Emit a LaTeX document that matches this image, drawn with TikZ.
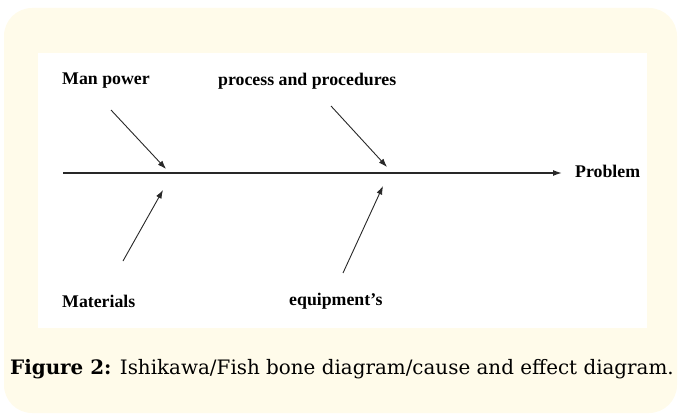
\documentclass[tikz,border=0pt]{standalone}
\usepackage{fontspec}
\setmainfont{Liberation Serif}
\newfontfamily\capfont{DejaVu Serif}
\usetikzlibrary{arrows.meta}
\definecolor{panelyellow}{RGB}{255,251,234}
\definecolor{boneline}{RGB}{40,40,40}

\begin{document}
\begin{tikzpicture}[
    x=1pt, y=-1pt,
    lbl/.style={anchor=west, inner sep=0pt, font=\fontsize{17.8}{20}\selectfont\bfseries},
    bone/.style={-{Latex[length=8.5pt,width=6pt]}, draw=boneline, line width=0.9pt},
    spine/.style={-{Latex[length=9pt,width=6pt]}, draw=boneline, line width=1.4pt},
]
\useasboundingbox (0,0) rectangle (680,417);
\fill[panelyellow, rounded corners=28pt] (4,8) rectangle (677,413);
\fill[white] (38,53) rectangle (647,328);

\node[lbl] (man) at (62,81) {Man power};
\node[lbl] (proc) at (218,81) {process and procedures};
\node[lbl] (mat) at (62,301) {Materials};
\node[lbl] (equip) at (289,301) {equipment’s};
\node[lbl, inner xsep=13pt] (prob) at (562,171) {Problem};

\coordinate (tail) at (63,173);
\coordinate (mantail) at (111,110);
\coordinate (manhead) at (166,169);
\coordinate (proctail) at (331,106);
\coordinate (prochead) at (387,167);
\coordinate (mattail) at (123,261);
\coordinate (mathead) at (163,190);
\coordinate (equiptail) at (343,273);
\coordinate (equiphead) at (383,186);

\draw[spine] (tail) -- (tail -| prob.west);
\draw[bone] (mantail) -- (manhead);
\draw[bone] (proctail) -- (prochead);
\draw[bone] (mattail) -- (mathead);
\draw[bone] (equiptail) -- (equiphead);

\node[font=\capfont\fontsize{19.9}{23}\selectfont] (cap) at (342,369)
    {\textbf{Figure 2:} Ishikawa/Fish bone diagram/cause and effect diagram.};
\end{tikzpicture}
\end{document}
